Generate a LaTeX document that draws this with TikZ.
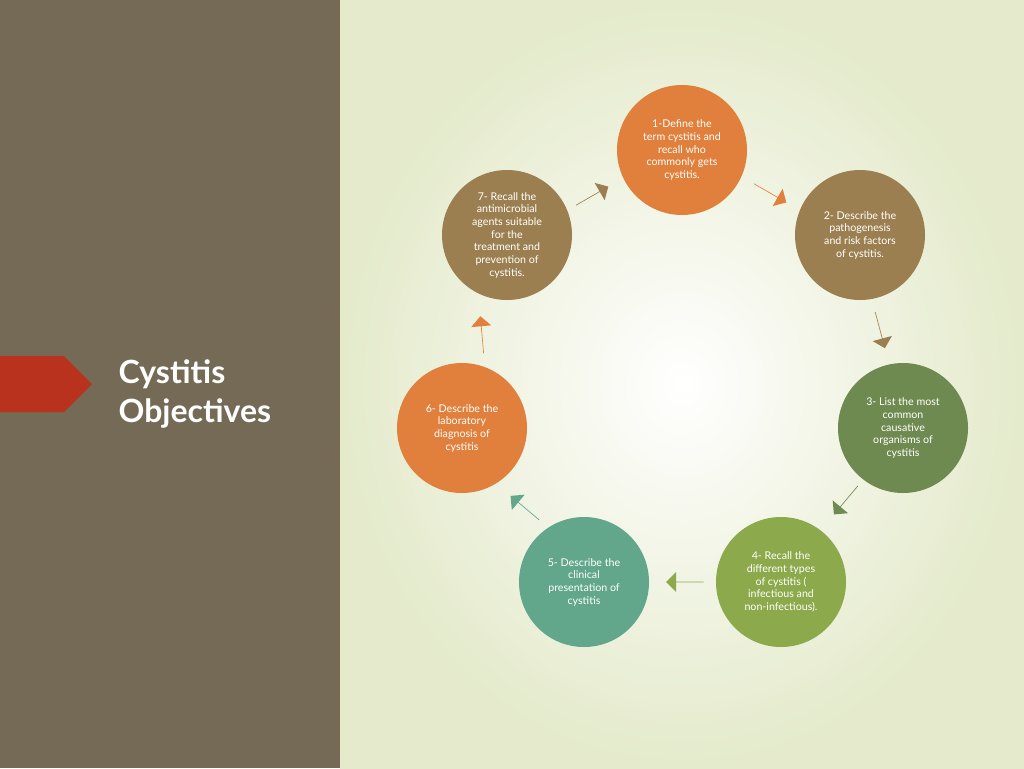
\documentclass[tikz,border=0pt]{standalone}
\usepackage{fontspec}
\setmainfont{Lato}
\usetikzlibrary{shapes.arrows,shapes.symbols}
\definecolor{panel}{HTML}{756A55}
\definecolor{cOrange}{HTML}{E0803C}
\definecolor{cBrown}{HTML}{9C7F50}
\definecolor{cDkGreen}{HTML}{6F8A50}
\definecolor{cGreen}{HTML}{8CA94C}
\definecolor{cTeal}{HTML}{62A68C}
\definecolor{cRed}{HTML}{B8321E}
\definecolor{bgEdge}{HTML}{E4EACB}
\begin{document}
\begin{tikzpicture}[
x=0.75pt,y=-0.75pt,
stepnode/.style={
  circle,
  minimum size=97.5pt,
  inner sep=2pt,
  text=white,
  align=center,
  font=\fontsize{8}{9.5}\selectfont
  },
turn/.style={
  single arrow,
  minimum height=28pt,
  minimum width=15pt,
  single arrow head extend=6pt,
  single arrow head indent=0pt,
  inner sep=0pt
  }
]
\useasboundingbox (0,0) rectangle (1024,768);
\shade[inner color=white,outer color=bgEdge] (340,0) rectangle (1024,768);
\fill[panel] (0,0) rectangle (340,768);
\node[fill=cRed,shape=signal,signal to=east,minimum width=69pt,minimum height=42pt,inner sep=0pt,outer sep=0pt,anchor=west] (tab) at (0,384) {};
\node[anchor=west,align=left,text=white,font=\fontsize{24}{29}\selectfont\bfseries] (title) at (114,394) {Cystitis\\Objectives};

\node[stepnode,fill=cOrange] (s1) at (682,150) {1-Define the\\term cystitis and\\recall who\\commonly gets\\cystitis.};
\node[stepnode,fill=cBrown] (s2) at (860,235) {2- Describe the\\pathogenesis\\and risk factors\\of cystitis.};
\node[stepnode,fill=cDkGreen] (s3) at (903,428) {3- List the most\\common\\causative\\organisms of\\cystitis};
\node[stepnode,fill=cGreen] (s4) at (781,582) {4- Recall the\\different types\\of cystitis (\\infectious and\\non-infectious).};
\node[stepnode,fill=cTeal] (s5) at (584,582) {5- Describe the\\clinical\\presentation of\\cystitis};
\node[stepnode,fill=cOrange] (s6) at (462,428) {6- Describe the\\laboratory\\diagnosis of\\cystitis};
\node[stepnode,fill=cBrown] (s7) at (507,235) {7- Recall the\\antimicrobial\\agents suitable\\for the\\treatment and\\prevention of\\cystitis.};

\node[turn,fill=cBrown,rotate=30] (a71) at (592,196) {};
\node[turn,fill=cOrange,rotate=-30] (a12) at (770,193) {};
\node[turn,fill=cBrown,rotate=-75] (a23) at (880,330) {};
\node[turn,fill=cDkGreen,rotate=-130] (a34) at (846,500) {};
\node[turn,fill=cGreen,rotate=180] (a45) at (685,582) {};
\node[turn,fill=cTeal,rotate=140] (a56) at (525,508) {};
\node[turn,fill=cOrange,rotate=95] (a67) at (482,335) {};
\end{tikzpicture}
\end{document}
